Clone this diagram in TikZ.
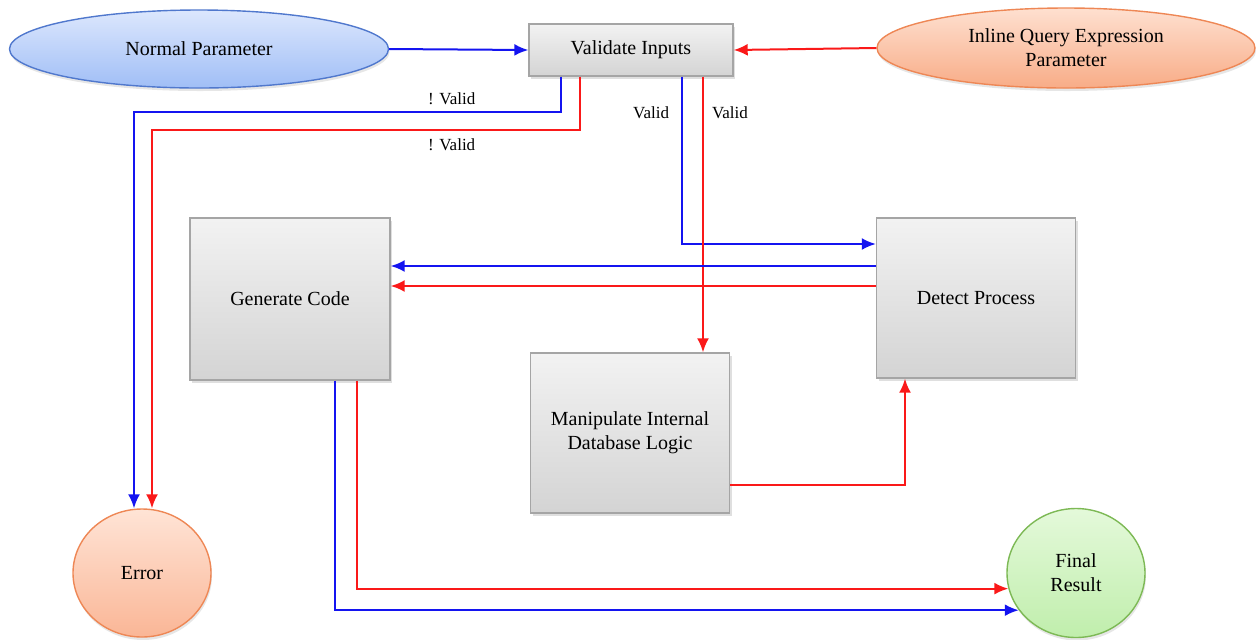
\documentclass[tikz,border=0pt]{standalone}
\usepackage{fontspec}
\setmainfont{Liberation Serif}
\usetikzlibrary{shapes.geometric,arrows.meta,shadows}
\definecolor{lineblue}{RGB}{20,20,240}
\definecolor{linered}{RGB}{250,25,25}
\definecolor{boxedge}{RGB}{165,165,165}
\definecolor{blueedge}{RGB}{80,120,205}
\definecolor{orangeedge}{RGB}{238,135,85}
\definecolor{greenedge}{RGB}{125,185,85}
\tikzset{%
    task/.style={%
        rectangle,
        draw=boxedge,
        line width=0.7pt,
        top color=black!5,
        bottom color=black!17,
        drop shadow={shadow xshift=1pt,shadow yshift=-1.5pt,opacity=0.25},
        align=center,
        inner sep=0pt,
        font=\fontsize{10}{12}\selectfont
    },
    source/.style={%
        ellipse,
        draw,
        line width=0.7pt,
        align=center,
        inner sep=0pt,
        drop shadow={shadow xshift=0.5pt,shadow yshift=-1.5pt,opacity=0.2},
        font=\fontsize{10}{12}\selectfont
    },
    flow/.style={%
        line width=1pt,
        -{Latex[length=7pt,width=6pt]}
    },
    blueflow/.style={flow, draw=lineblue},
    redflow/.style={flow, draw=linered},
    flowlabel/.style={%
        font=\fontsize{8.5}{10}\selectfont,
        inner sep=2pt
    }
}
\begin{document}
\begin{tikzpicture}[x=0.5pt,y=-0.5pt]
    \useasboundingbox (0,0) rectangle (1260,639);
    % boxes
    \node[task, minimum width=102pt, minimum height=26pt] (valid) at (631,50) {Validate Inputs};
    \node[task, minimum width=100pt, minimum height=81pt] (gen) at (290,299) {Generate Code};
    \node[task, minimum width=99.5pt, minimum height=80pt] (detect) at (976,298) {Detect Process};
    \node[task, minimum width=99.5pt, minimum height=80pt] (manip) at (630,433) {Manipulate Internal\\Database Logic};
    % inputs and outputs
    \node[source, draw=blueedge, top color={rgb,255:red,220;green,231;blue,253}, bottom color={rgb,255:red,160;green,190;blue,246},
        minimum width=189.5pt, minimum height=39pt] (normal) at (199,49) {Normal Parameter};
    \node[source, draw=orangeedge, top color={rgb,255:red,254;green,224;blue,208}, bottom color={rgb,255:red,248;green,172;blue,135},
        minimum width=189pt, minimum height=40pt] (inline) at (1066,48) {Inline Query Expression\\Parameter};
    \node[source, draw=orangeedge, top color={rgb,255:red,255;green,228;blue,214}, bottom color={rgb,255:red,250;green,182;blue,150},
        minimum width=69pt, minimum height=64pt] (error) at (142,573) {Error};
    \node[source, draw=greenedge, top color={rgb,255:red,228;green,249;blue,218}, bottom color={rgb,255:red,192;green,238;blue,172},
        minimum width=69pt, minimum height=64.5pt] (final) at (1076,573) {Final\\Result};
    % connectors
    \draw[blueflow] (normal.east) -- (valid.west);
    \draw[redflow] (inline.west) -- (valid.east);
    \draw[blueflow] ([xshift=-35pt]valid.south) -- ++(0,35)
        -| node[flowlabel, pos=0.128, above, yshift=1pt] (nv1) {! Valid} ([xshift=-4pt]error.north);
    \draw[redflow] ([xshift=-25.5pt]valid.south) -- ++(0,53)
        -| node[flowlabel, pos=0.15, below, yshift=-2pt] (nv2) {! Valid} ([xshift=5pt]error.north);
    \draw[blueflow] ([xshift=25.5pt]valid.south)
        |- node[flowlabel, pos=0.107, left, xshift=-4pt] (v1) {Valid} ([yshift=27pt]detect.west);
    \draw[redflow] ([xshift=36pt]valid.south)
        -- node[flowlabel, pos=0.13, right, xshift=2pt] (v2) {Valid} ([xshift=36pt]valid.south |- manip.north);
    \draw[blueflow] ([yshift=16pt]detect.west) -- ([yshift=16pt]detect.west -| gen.east);
    \draw[redflow] ([yshift=6pt]detect.west) -- ([yshift=6pt]detect.west -| gen.east);
    \draw[redflow] ([yshift=-26pt]manip.east) -| ([xshift=-35.5pt]detect.south);
    \draw[blueflow] ([xshift=22.5pt]gen.south) |- (final.213.5);
    \draw[redflow] ([xshift=33.5pt]gen.south) |- (final.193.5);
\end{tikzpicture}
\end{document}
